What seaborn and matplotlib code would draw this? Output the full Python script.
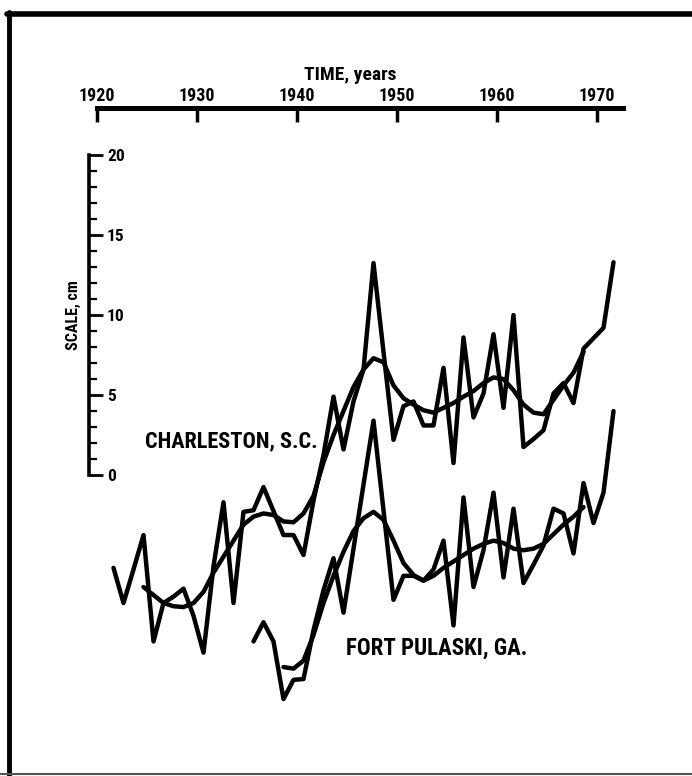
import matplotlib
matplotlib.use("Agg")
import matplotlib.pyplot as plt
from matplotlib.lines import Line2D
import numpy as np
import seaborn as sns

# annual values, cm (relative to the 0-20 cm scale bar)
chs_years = list(range(1921, 1972))
chs_annual = [-5.8, -8.0, -5.9, -3.75, -10.4, -8.0, -7.6, -7.1, -8.8, -11.1,
              -5.7, -1.7, -8.0, -2.3, -2.2, -0.75, -2.25, -3.75, -3.75, -5.0,
              -1.6, 1.25, 4.9, 1.6, 4.6, 6.6, 13.25, 7.7, 2.2, 4.3,
              4.6, 3.1, 3.1, 6.7, 0.75, 8.6, 3.6, 5.1, 8.8, 4.2,
              10.0, 1.75, 2.25, 2.8, 5.1, 5.75, 4.5, 7.9, 8.55, 9.2, 13.3]
chs_smooth_years = list(range(1924, 1969))
chs_smooth = [-7.0, -7.5, -8.0, -8.2, -8.25, -8.0, -7.3, -6.1, -5.1, -4.1,
              -3.1, -2.6, -2.4, -2.5, -2.9, -2.95, -2.4, -1.3, 0.8, 2.5,
              4.0, 5.5, 6.6, 7.3, 7.05, 5.6, 4.8, 4.4, 4.05, 3.9,
              4.2, 4.5, 4.9, 5.25, 5.75, 6.1, 6.0, 5.3, 4.4, 3.9,
              3.8, 4.7, 5.6, 6.4, 7.7]

ftp_years = list(range(1935, 1972))
ftp_annual = [-10.4, -9.2, -10.4, -14.0, -12.8, -12.75, -9.7, -7.2, -5.2, -8.6,
              -4.6, -0.6, 3.4, -2.2, -7.8, -6.3, -6.3, -6.6, -5.9, -4.1,
              -9.4, -1.4, -7.0, -4.7, -1.1, -6.4, -2.1, -6.75, -5.6, -4.4,
              -2.1, -2.4, -4.9, -0.5, -3.0, -1.1, 4.0]
ftp_smooth_years = list(range(1938, 1969))
ftp_smooth = [-12.0, -12.1, -11.6, -10.0, -8.0, -6.3, -4.8, -3.5, -2.7, -2.3,
              -2.8, -4.1, -5.5, -6.25, -6.6, -6.3, -5.8, -5.4, -5.0, -4.6,
              -4.3, -4.1, -4.25, -4.6, -4.7, -4.6, -4.3, -3.7, -3.1, -2.6, -2.0]

year_ticks = [1920, 1930, 1940, 1950, 1960, 1970]
scale_ticks = [0, 5, 10, 15, 20]

sns.set_style("white")
plt.rcParams['font.family'] = ['Roboto Condensed', 'DejaVu Sans']
plt.rcParams['font.stretch'] = 'condensed'
plt.rcParams['font.weight'] = 'bold'
for k in ['text.color', 'axes.labelcolor', 'xtick.color', 'ytick.color']:
    plt.rcParams[k] = 'black'

fig = plt.figure(figsize=(6.92, 7.76), dpi=100)
ax = fig.add_axes([0, 0, 1, 1])

LW = 3.2
# values are annual means, drawn at mid-year
for yrs, vals in [(chs_years, chs_annual), (chs_smooth_years, chs_smooth),
                  (ftp_years, ftp_annual), (ftp_smooth_years, ftp_smooth)]:
    sns.lineplot(x=np.array(yrs) + 0.65, y=vals, ax=ax, color='black',
                 lw=LW, estimator=None, sort=False)

ax.set_xlim(1910.3, 1979.5)
ax.set_ylim(-18.81, 29.69)

# time axis across the top
ax.spines['top'].set_position(('data', 22.94))
ax.spines['top'].set_bounds(1920, 1972.6)
ax.spines['top'].set_linewidth(3.6)
ax.xaxis.tick_top()
ax.set_xticks(year_ticks)
ax.tick_params(axis='x', direction='in', length=10, width=2.5, pad=2,
               labelsize=13)
ax.set_xlabel('')
ax.text(1945.3, 24.7, 'TIME, years', ha='center', va='baseline',
        fontsize=14, fontweight='bold')

# scale bar
ax.spines['right'].set_position(('data', 1919.2))
ax.spines['right'].set_bounds(0, 20)
ax.spines['right'].set_linewidth(2.6)
ax.yaxis.tick_right()
ax.set_yticks(scale_ticks)
ax.set_yticks(range(0, 21), minor=True)
ax.tick_params(axis='y', which='major', direction='out', length=10, width=2,
               pad=3, labelsize=12.5)
ax.tick_params(axis='y', which='minor', direction='out', length=6, width=1.6)
ax.set_ylabel('')
ax.text(1917.6, 10.0, 'SCALE, cm', rotation=90, ha='center', va='center',
        fontsize=11.5, fontweight='bold')

for s in ['left', 'bottom']:
    ax.spines[s].set_visible(False)
for s in ['top', 'right']:
    ax.spines[s].set_color('black')

ax.text(1924.8, 2.1, 'CHARLESTON, S.C.', ha='left', va='center',
        fontsize=16, fontweight='bold')
ax.text(1944.9, -10.8, 'FORT PULASKI, GA.', ha='left', va='center',
        fontsize=16.5, fontweight='bold')

# frame of the original figure
fig.add_artist(Line2D([7 / 692, 1], [1 - 14 / 776] * 2, color='black', lw=4))
fig.add_artist(Line2D([9 / 692] * 2, [0, 1 - 12 / 776], color='black', lw=3.5))
fig.add_artist(Line2D([0, 1], [2 / 776] * 2, color='#555555', lw=1.5))

fig.savefig('out.png', dpi=100)
